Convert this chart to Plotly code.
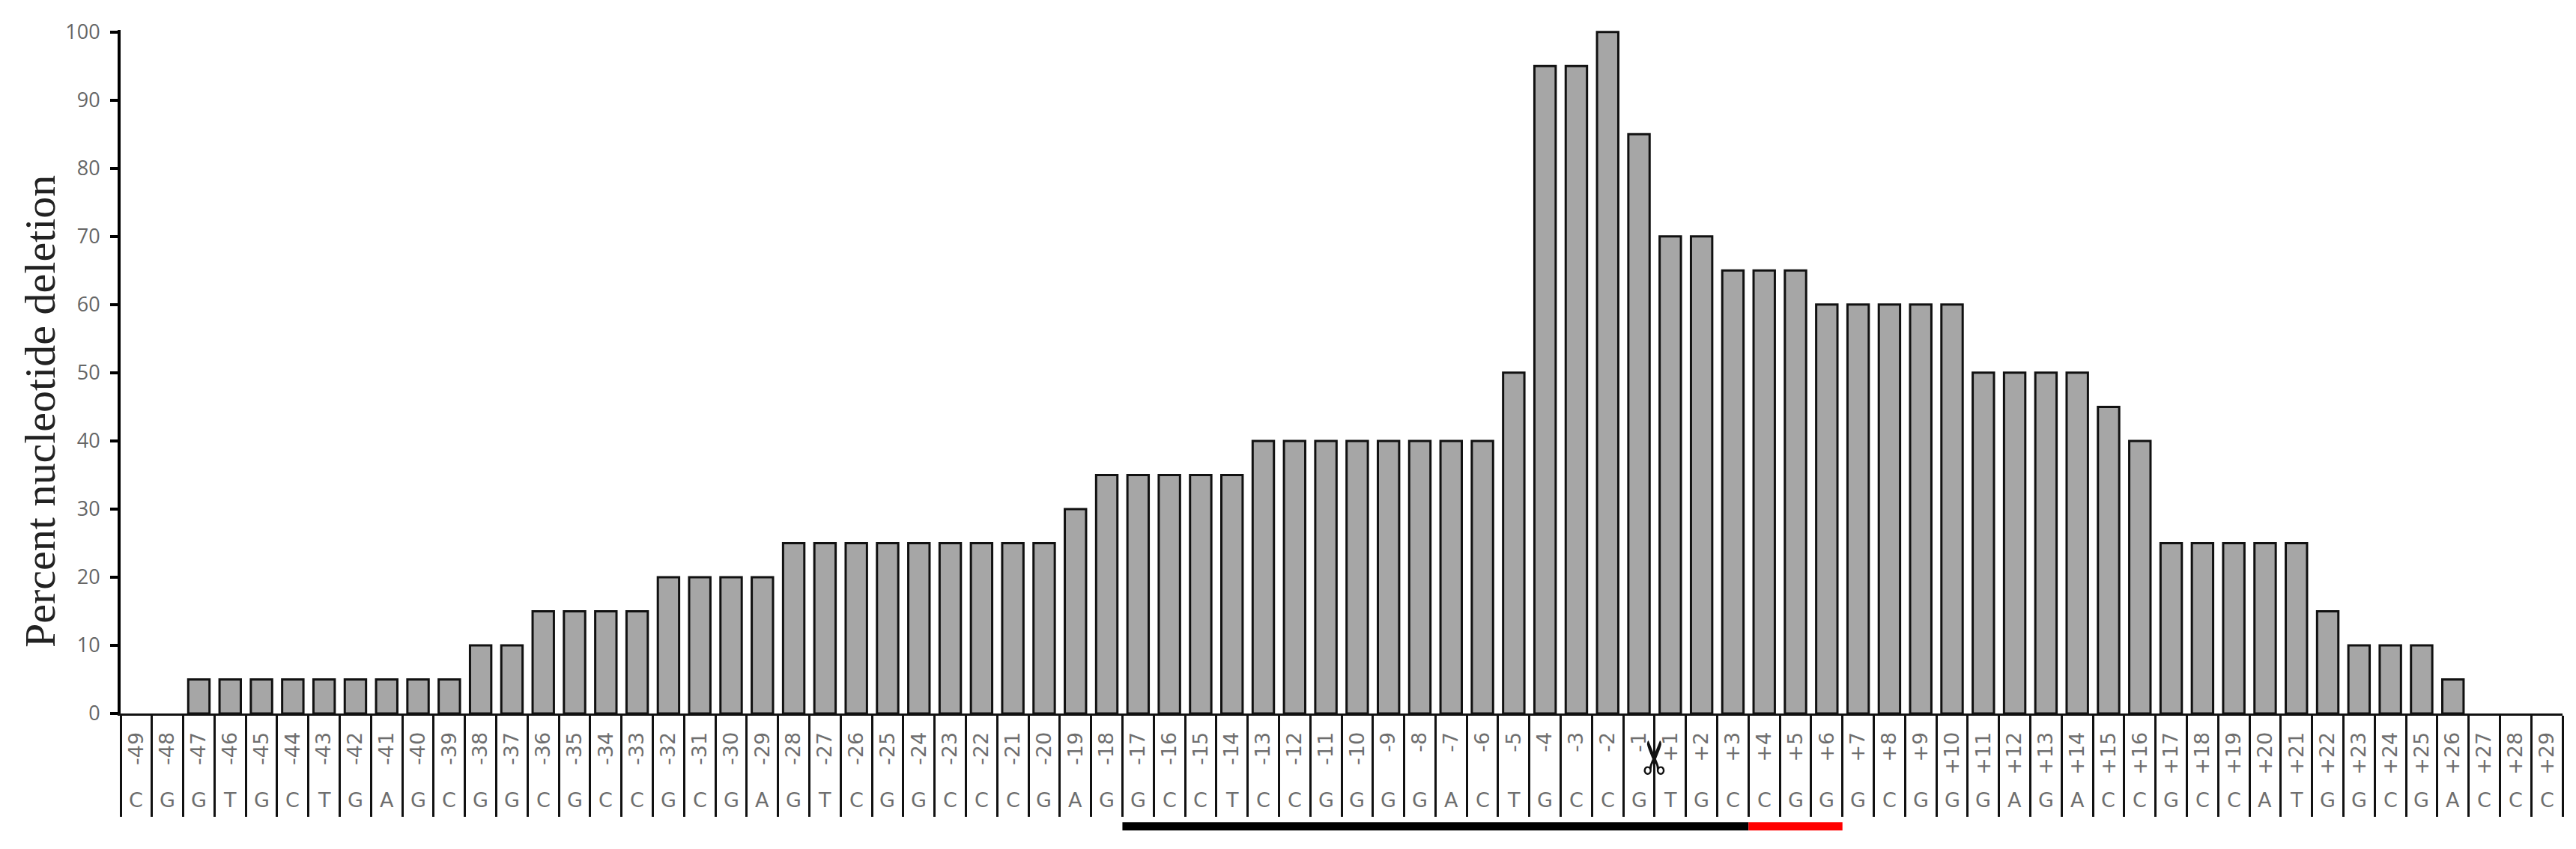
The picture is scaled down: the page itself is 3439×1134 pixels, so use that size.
import plotly.graph_objects as go

# positions along the target, -49..-1 then +1..+29
positions = ["-49","-48","-47","-46","-45","-44","-43","-42","-41","-40","-39","-38","-37","-36","-35","-34","-33",
             "-32","-31","-30","-29","-28","-27","-26","-25","-24","-23","-22","-21","-20","-19","-18","-17","-16",
             "-15","-14","-13","-12","-11","-10","-9","-8","-7","-6","-5","-4","-3","-2","-1",
             "+1","+2","+3","+4","+5","+6","+7","+8","+9","+10","+11","+12","+13","+14","+15","+16","+17","+18",
             "+19","+20","+21","+22","+23","+24","+25","+26","+27","+28","+29"]
bases = list("CGGTGCTGAGCGGCGCCGCGAGTCGGCCCGAGGCCTCCGGGGACTGCCG"
             "TGCCGGGCGGGAGACCGCCATGGCGACCC")
deletion = [0,0,5,5,5,5,5,5,5,5,5,10,10,15,15,15,15,20,20,20,20,25,25,25,25,25,25,25,25,25,30,35,35,35,35,35,
            40,40,40,40,40,40,40,40,50,95,95,100,85,
            70,70,65,65,65,60,60,60,60,60,50,50,50,50,45,40,25,25,25,25,25,15,10,10,10,5,0,0,0]
y_ticks = [0,10,20,30,40,50,60,70,80,90,100]

# guide and PAM bars under the sequence
guide = ("-17", "+3")
pam = ("+4", "+6")
cut_left = "-1"

fig = go.Figure()
# no outline on the empty positions, otherwise they show as a blob on the axis
fig.add_trace(go.Bar(x=positions, y=deletion, cliponaxis=False,
                     marker=dict(color="#a6a6a6", line=dict(color="#111111", width=[3 if v > 0 else 0 for v in deletion]))))

# numeric looking names get read as serial numbers in annotations, so go by index
for i, base in enumerate(bases):
    fig.add_annotation(x=i, y=-0.126, xref="x", yref="paper", yanchor="middle", text=base, showarrow=False,
                       font=dict(family="DejaVu Sans", size=27, color="#6e6e6e"))

# scissors on the cut site
fig.add_annotation(x=positions.index(cut_left) + 0.5, y=-0.064, xref="x", yref="paper", yanchor="middle",
                   text="\u2702", textangle=-90, showarrow=False,
                   font=dict(family="DejaVu Sans", size=62, color="#111111"))

for (start, end), col in [(guide, "#000000"), (pam, "#ff0000")]:
    fig.add_shape(type="line", x0=positions.index(start) - 0.5, x1=positions.index(end) + 0.5, xref="x", yref="paper",
                  y0=-0.165, y1=-0.165, line=dict(color=col, width=11))

# axis title sits below the middle of the plot in the reference
fig.add_annotation(x=0, xshift=-142, y=0.442, xref="paper", yref="paper", text="Percent nucleotide deletion",
                   textangle=-90, showarrow=False, font=dict(family="Liberation Serif", size=58, color="#222222"))

fig.update_layout(
    width=3439, height=1134, margin=dict(l=161, r=18, t=40, b=181),
    paper_bgcolor="white", plot_bgcolor="white", showlegend=False, bargap=0.32,
    xaxis=dict(type="category", categoryorder="array", categoryarray=positions, tickmode="array",
               tickvals=positions, ticktext=positions, tickson="boundaries", ticks="outside", ticklen=135,
               tickwidth=3, tickcolor="#111111", ticklabelstandoff=11, tickangle=-90, range=[-0.5, 77.5],
               tickfont=dict(family="DejaVu Sans", size=27, color="#6e6e6e"),
               showline=True, linecolor="#111111", linewidth=3, showgrid=False, zeroline=False),
    # a little headroom so the top edge of the 100 bar is not cut off
    yaxis=dict(range=[0,100.3], tickmode="array", tickvals=y_ticks, ticks="outside", ticklen=10, tickwidth=4,
               tickcolor="#000000", showline=True, linecolor="#000000", linewidth=4, showgrid=False, zeroline=False,
               ticklabelstandoff=8, tickfont=dict(family="Open Sans", size=27, color="#666666")),
)

fig.write_html("out.html", config=dict(displayModeBar=False), post_script="document.body.style.margin='0'")
